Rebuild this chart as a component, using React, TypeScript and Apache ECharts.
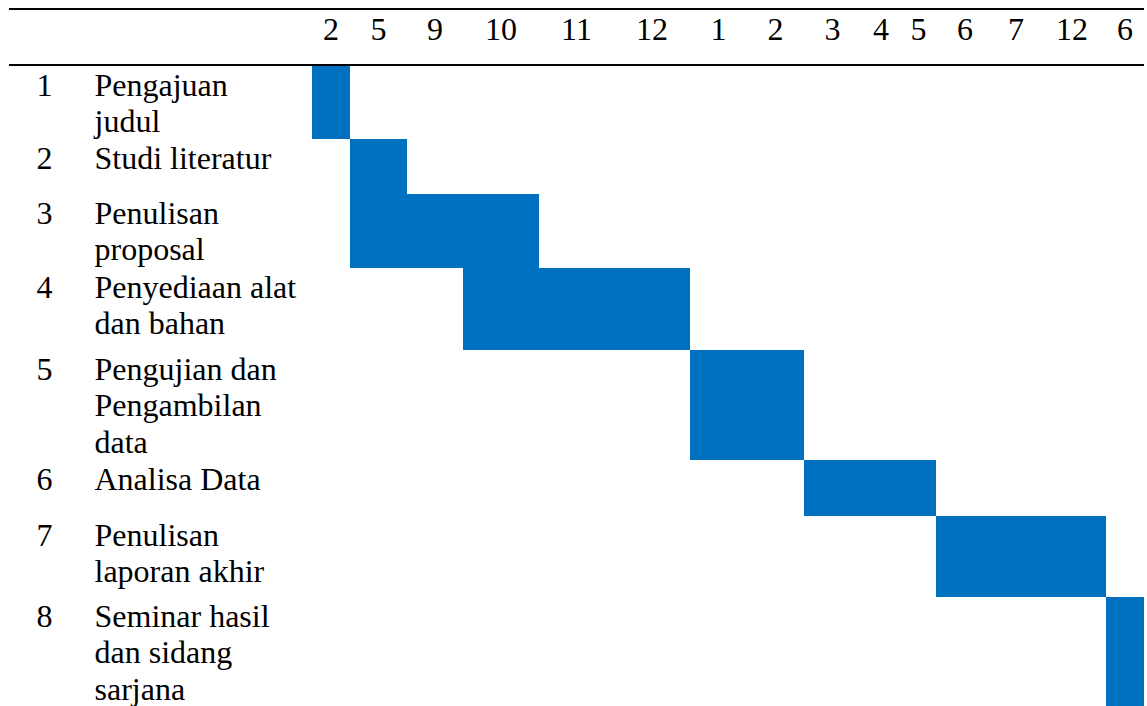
import React, { useEffect, useRef } from "react";
import * as echarts from "echarts";

// ---- data ----
const MONTHS = ["2", "5", "9", "10", "11", "12", "1", "2", "3", "4", "5", "6", "7", "12", "6"];
const TASK_NO = ["1", "2", "3", "4", "5", "6", "7", "8"];
const TASK_NAMES = [
  "Pengajuan\njudul",
  "Studi literatur",
  "Penulisan\nproposal",
  "Penyediaan alat\ndan bahan",
  "Pengujian dan\nPengambilan\ndata",
  "Analisa Data",
  "Penulisan\nlaporan akhir",
  "Seminar hasil\ndan sidang\nsarjana",
];
// first and last month column (index into MONTHS) of each task
const TASK_START = [0, 1, 1, 3, 6, 8, 11, 14];
const TASK_END = [0, 1, 3, 5, 7, 10, 13, 14];

// ---- layout (table column widths / row heights) ----
const COL_WIDTHS = [38, 57, 56, 76, 75, 76, 57, 57, 57, 40, 35, 58, 44, 68, 38];
const ROW_HEIGHTS = [73, 55, 74, 82, 110, 56, 81, 110];

const cumulative = (arr: number[]) => {
  const out = [0];
  arr.forEach((w) => out.push(out[out.length - 1] + w));
  return out;
};
const COL_EDGES = cumulative(COL_WIDTHS);
const ROW_EDGES = cumulative(ROW_HEIGHTS);
const TOTAL_W = COL_EDGES[COL_EDGES.length - 1];
const TOTAL_H = ROW_EDGES[ROW_EDGES.length - 1];
const COL_CENTERS = COL_WIDTHS.map((w, i) => COL_EDGES[i] + w / 2);
const TEXT_PAD = 1.1;
const ROW_LABEL_POS = ROW_HEIGHTS.map((_, i) => ROW_EDGES[i] + TEXT_PAD);

const FONT = "Liberation Serif, Times New Roman, Times, serif";
const FONT_SIZE = 32;
const LINE_H = 36.2;
const BAR_COLOR = "#0070C0";

const nearestIndex = (list: number[], v: number) => {
  let best = 0;
  list.forEach((x, i) => {
    if (Math.abs(x - v) < Math.abs(list[best] - v)) best = i;
  });
  return best;
};

export default function App() {
  const ref = useRef<HTMLDivElement>(null);

  useEffect(() => {
    if (!ref.current) return;
    const chart = echarts.init(ref.current, null, { renderer: "svg" });

    const data = TASK_START.map((s, i) => [
      COL_EDGES[s],
      COL_EDGES[TASK_END[i] + 1],
      ROW_EDGES[i],
      ROW_EDGES[i + 1],
    ]);

    const hidden = {
      axisLine: { show: false },
      axisTick: { show: false },
      splitLine: { show: false },
    };
    const textStyle = {
      fontFamily: FONT,
      fontSize: FONT_SIZE,
      color: "#000",
      lineHeight: LINE_H,
    };

    chart.setOption({
      animation: false,
      backgroundColor: "#fff",
      textStyle: { fontFamily: FONT },
      grid: {
        left: 312,
        top: 66,
        width: TOTAL_W,
        height: TOTAL_H,
        containLabel: false,
        outerBoundsMode: "none",
      },
      xAxis: {
        type: "value",
        position: "top",
        min: 0,
        max: TOTAL_W,
        ...hidden,
        axisLabel: {
          ...textStyle,
          customValues: COL_CENTERS,
          formatter: (v: number) => MONTHS[nearestIndex(COL_CENTERS, v)],
          margin: 37.5,
          verticalAlign: "middle",
          align: "center",
        },
      },
      yAxis: [
        {
          type: "value",
          position: "left",
          inverse: true,
          min: 0,
          max: TOTAL_H,
          ...hidden,
          axisLabel: {
            ...textStyle,
            customValues: ROW_LABEL_POS,
            formatter: (v: number) => TASK_NAMES[nearestIndex(ROW_LABEL_POS, v)],
            margin: 312 - 94.5,
            align: "left",
            verticalAlign: "top",
          },
        },
        {
          type: "value",
          position: "left",
          inverse: true,
          min: 0,
          max: TOTAL_H,
          ...hidden,
          axisLabel: {
            ...textStyle,
            customValues: ROW_LABEL_POS,
            formatter: (v: number) => TASK_NO[nearestIndex(ROW_LABEL_POS, v)],
            margin: 312 - 44.5,
            align: "center",
            verticalAlign: "top",
          },
        },
      ],
      series: [
        {
          type: "custom",
          xAxisIndex: 0,
          yAxisIndex: 0,
          encode: { x: [0, 1], y: [2, 3] },
          data,
          renderItem: (_params: any, api: any) => {
            const p1 = api.coord([api.value(0), api.value(2)]);
            const p2 = api.coord([api.value(1), api.value(3)]);
            return {
              type: "rect",
              shape: { x: p1[0], y: p1[1], width: p2[0] - p1[0], height: p2[1] - p1[1] },
              style: { fill: BAR_COLOR },
            };
          },
        },
      ],
      graphic: [
        {
          type: "line",
          shape: { x1: 9, y1: 9, x2: 1144, y2: 9 },
          style: { stroke: "#000", lineWidth: 2 },
        },
        {
          type: "line",
          shape: { x1: 9, y1: 65, x2: 1144, y2: 65 },
          style: { stroke: "#000", lineWidth: 2 },
        },
      ],
    });

    return () => chart.dispose();
  }, []);

  return (
    <div
      ref={ref}
      style={{ position: "fixed", left: 0, top: 0, width: 1147, height: 706, background: "#fff" }}
    />
  );
}
